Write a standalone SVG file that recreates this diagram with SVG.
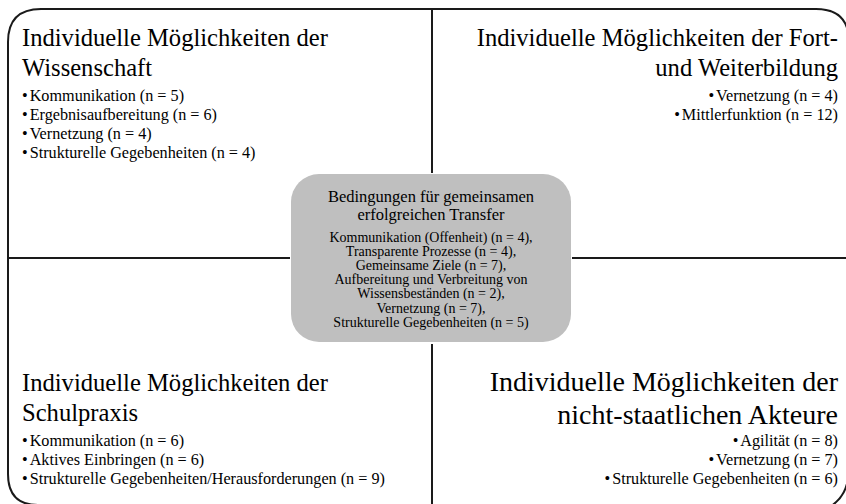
<svg xmlns="http://www.w3.org/2000/svg" width="846" height="504" viewBox="0 0 846 504">
<style>
  text { font-family: "Liberation Serif", "Times New Roman", serif; fill: #000; }
  .t { font-size: 24.6px; }
  .tb { font-size: 28px; }
  .b { font-size: 16.2px; }
  .ct { font-size: 16.5px; }
  .cs { font-size: 14px; }
  .ln { fill: none; stroke: #1a1a1a; stroke-width: 2; }
  .r { text-anchor: end; }
  .m { text-anchor: middle; }
</style>
<rect width="846" height="504" fill="#fff"/>
<g id="connectors">
  <path class="ln" d="M8,42 Q8,9 41,9 L816,9 Q849,9 849,42 L849,466 C849,488 842,500 828,508 M8,42 L8,474 Q8,505 38,505"/>
  <line class="ln" x1="432" y1="9" x2="432" y2="173"/>
  <line class="ln" x1="432" y1="344" x2="432" y2="505"/>
  <line class="ln" x1="8" y1="258" x2="290" y2="258"/>
  <line class="ln" x1="572" y1="258" x2="849" y2="258"/>
</g>
<g id="q-wissenschaft">
  <text class="t" x="22" y="46">Individuelle Möglichkeiten der</text>
  <text class="t" x="22" y="76">Wissenschaft</text>
  <text class="b" x="22" y="101">•<tspan dx="2">Kommunikation (n = 5)</tspan></text>
  <text class="b" x="22" y="120">•<tspan dx="2">Ergebnisaufbereitung (n = 6)</tspan></text>
  <text class="b" x="22" y="139">•<tspan dx="2">Vernetzung (n = 4)</tspan></text>
  <text class="b" x="22" y="158">•<tspan dx="2">Strukturelle Gegebenheiten (n = 4)</tspan></text>
</g>
<g id="q-fortbildung">
  <text class="t r" x="838" y="46">Individuelle Möglichkeiten der Fort-</text>
  <text class="t r" x="838" y="76">und Weiterbildung</text>
  <text class="b r" x="838" y="101">•<tspan dx="2">Vernetzung (n = 4)</tspan></text>
  <text class="b r" x="838" y="120">•<tspan dx="2">Mittlerfunktion (n = 12)</tspan></text>
</g>
<g id="q-schulpraxis">
  <text class="t" x="22" y="391">Individuelle Möglichkeiten der</text>
  <text class="t" x="22" y="421">Schulpraxis</text>
  <text class="b" x="22" y="446">•<tspan dx="2">Kommunikation (n = 6)</tspan></text>
  <text class="b" x="22" y="465">•<tspan dx="2">Aktives Einbringen (n = 6)</tspan></text>
  <text class="b" x="22" y="484">•<tspan dx="2">Strukturelle Gegebenheiten/Herausforderungen (n = 9)</tspan></text>
</g>
<g id="q-akteure">
  <text class="tb r" x="838" y="391">Individuelle Möglichkeiten der</text>
  <text class="tb r" x="838" y="424">nicht-staatlichen Akteure</text>
  <text class="b r" x="838" y="446">•<tspan dx="2">Agilität (n = 8)</tspan></text>
  <text class="b r" x="838" y="465">•<tspan dx="2">Vernetzung (n = 7)</tspan></text>
  <text class="b r" x="838" y="484">•<tspan dx="2">Strukturelle Gegebenheiten (n = 6)</tspan></text>
</g>
<g id="center">
  <rect x="291" y="174" width="280" height="168" rx="28" ry="28" fill="#bfbfbf"/>
  <text class="ct m" x="431" y="201.5">Bedingungen für gemeinsamen</text>
  <text class="ct m" x="431" y="219.5">erfolgreichen Transfer</text>
  <text class="cs m" x="431" y="241.5">Kommunikation (Offenheit) (n = 4),</text>
  <text class="cs m" x="431" y="255.7">Transparente Prozesse (n = 4),</text>
  <text class="cs m" x="431" y="269.9">Gemeinsame Ziele (n = 7),</text>
  <text class="cs m" x="431" y="284.1">Aufbereitung und Verbreitung von</text>
  <text class="cs m" x="431" y="298.3">Wissensbeständen (n = 2),</text>
  <text class="cs m" x="431" y="312.5">Vernetzung (n = 7),</text>
  <text class="cs m" x="431" y="326.7">Strukturelle Gegebenheiten (n = 5)</text>
</g>
</svg>
